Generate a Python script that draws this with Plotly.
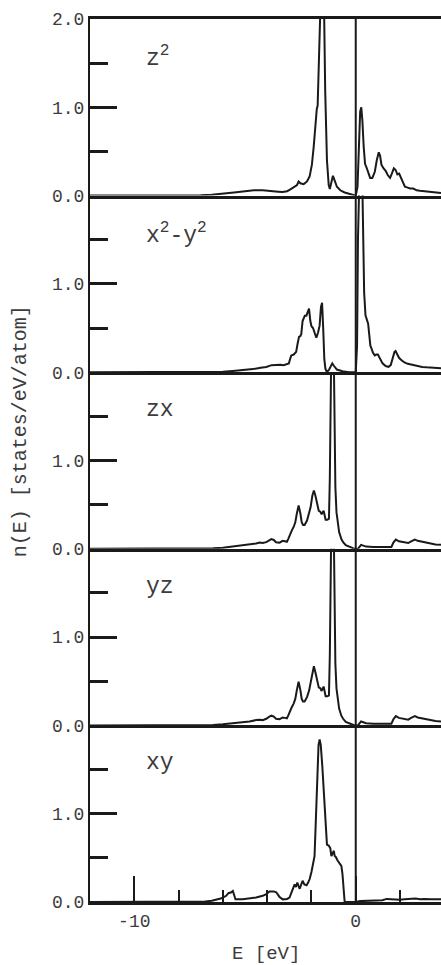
import plotly.graph_objects as go
from plotly.subplots import make_subplots

# ---------------- data ----------------
panel_labels = ["z<sup>2</sup>", "x<sup>2</sup>-y<sup>2</sup>", "zx", "yz", "xy"]

E_z2 = [-12.0, -7.5, -7.0, -6.5, -6.0, -5.5, -5.0, -4.6, -4.2, -3.8, -3.5, -3.3, -3.1, -2.95, -2.8,
        -2.65, -2.58, -2.5, -2.35, -2.2, -2.08, -1.98, -1.9, -1.82, -1.76, -1.72, -1.66, -1.6, -1.52,
        -1.44, -1.38, -1.30, -1.22, -1.17, -1.10, -1.03, -0.95, -0.85, -0.7, -0.5, -0.3, -0.15, 0.0,
        0.08, 0.14, 0.20, 0.25, 0.30, 0.36, 0.42, 0.5, 0.58, 0.65, 0.75, 0.86, 0.95, 1.04, 1.10, 1.16,
        1.25, 1.35, 1.45, 1.55, 1.63, 1.72, 1.80, 1.88, 1.96, 2.04, 2.12, 2.22, 2.35, 2.45, 2.6, 2.75,
        2.9, 3.05, 3.2, 3.4, 3.6, 3.85]
n_z2 = [0.0, 0.0, 0.005, 0.01, 0.02, 0.035, 0.05, 0.06, 0.06, 0.055, 0.045, 0.04, 0.05, 0.07, 0.10,
        0.12, 0.16, 0.14, 0.13, 0.16, 0.22, 0.35, 0.55, 0.85, 0.98, 1.02, 1.6, 2.3, 2.8,
        2.3, 1.2, 0.4, 0.12, 0.075, 0.15, 0.225, 0.17, 0.10, 0.06, 0.035, 0.02, 0.01, 0.0,
        0.1, 0.6, 0.95, 1.0, 0.85, 0.55, 0.36, 0.31, 0.24, 0.2, 0.2, 0.27, 0.4, 0.49, 0.45, 0.35,
        0.31, 0.28, 0.23, 0.2, 0.25, 0.31, 0.29, 0.24, 0.25, 0.2, 0.14, 0.10, 0.09, 0.08, 0.08, 0.06,
        0.055, 0.05, 0.045, 0.04, 0.035, 0.03]

E_x2y2 = [-12.0, -6.5, -6.0, -5.55, -5.0, -4.64, -4.3, -4.04, -3.8, -3.59, -3.4, -3.26, -3.1, -3.02,
          -2.95, -2.91, -2.8, -2.69, -2.62, -2.56, -2.5, -2.46, -2.40, -2.3, -2.23, -2.17, -2.11,
          -2.05, -2.0, -1.93, -1.85, -1.78, -1.70, -1.63, -1.57, -1.52, -1.47, -1.42, -1.37, -1.30,
          -1.2, -1.12, -1.06, -0.98, -0.85, -0.6, -0.3, 0.0, 0.06, 0.1, 0.15, 0.22, 0.28, 0.33, 0.38,
          0.44, 0.5, 0.56, 0.62, 0.66, 0.71, 0.78, 0.86, 0.93, 1.0, 1.08, 1.21, 1.35, 1.48, 1.58,
          1.67, 1.75, 1.8, 1.88, 1.96, 2.07, 2.2, 2.35, 2.5, 2.6, 2.8, 3.0, 3.2, 3.5, 3.85]
n_x2y2 = [0.0, 0.0, 0.005, 0.015, 0.025, 0.035, 0.05, 0.06, 0.08, 0.085, 0.085, 0.08, 0.09, 0.1,
          0.16, 0.19, 0.2, 0.23, 0.33, 0.40, 0.41, 0.43, 0.58, 0.64, 0.64, 0.68, 0.72,
          0.58, 0.52, 0.50, 0.43, 0.39, 0.45, 0.53, 0.74, 0.785, 0.5, 0.15, 0.04, 0.0,
          0.03, 0.08, 0.10, 0.07, 0.03, 0.01, 0.0, 0.0, 0.3, 1.5, 2.4, 2.8, 2.4, 1.6, 0.9,
          0.645, 0.6, 0.55, 0.4, 0.3, 0.27, 0.22, 0.19, 0.2, 0.2, 0.16, 0.1, 0.07, 0.06, 0.08,
          0.17, 0.23, 0.24, 0.2, 0.16, 0.135, 0.11, 0.095, 0.085, 0.08, 0.065, 0.06, 0.055, 0.05, 0.045]

E_zx = [-12.0, -7.0, -6.45, -6.0, -5.55, -5.2, -4.8, -4.5, -4.34, -4.2, -4.04, -3.9, -3.81, -3.7,
        -3.6, -3.44, -3.3, -3.2, -3.11, -3.05, -2.99, -2.9, -2.8, -2.73, -2.66, -2.58, -2.5, -2.44,
        -2.38, -2.31, -2.2, -2.1, -2.04, -1.96, -1.89, -1.82, -1.75, -1.67, -1.6, -1.54, -1.45,
        -1.40, -1.36, -1.28, -1.21, -1.17, -1.13, -1.08, -1.02, -0.97, -0.92, -0.87, -0.8, -0.75,
        -0.65, -0.57, -0.45, -0.27, -0.1, 0.0, 0.1, 0.24, 0.35, 0.47, 0.8, 1.2, 1.61, 1.7, 1.81,
        1.95, 2.07, 2.2, 2.37, 2.5, 2.67, 2.8, 2.97, 3.15, 3.35, 3.6, 3.85]
n_zx = [0.0, 0.0, 0.005, 0.012, 0.025, 0.035, 0.045, 0.06, 0.07, 0.065, 0.075, 0.1, 0.11, 0.1,
        0.075, 0.07, 0.09, 0.085, 0.08, 0.11, 0.15, 0.2, 0.25, 0.30, 0.4, 0.49, 0.4, 0.3,
        0.27, 0.27, 0.32, 0.4, 0.47, 0.6, 0.66, 0.6, 0.5, 0.43, 0.42, 0.39, 0.43,
        0.36, 0.33, 0.33, 0.34, 0.8, 2.0, 2.8, 2.8, 1.6, 0.7, 0.415, 0.26, 0.19,
        0.11, 0.075, 0.04, 0.02, 0.005, 0.0, 0.0, 0.045, 0.035, 0.025, 0.02, 0.02, 0.02, 0.07, 0.105,
        0.085, 0.08, 0.075, 0.065, 0.085, 0.105, 0.09, 0.08, 0.07, 0.06, 0.05, 0.045]

E_yz = [-12.0, -7.0, -6.45, -6.0, -5.55, -5.2, -4.8, -4.5, -4.34, -4.2, -4.04, -3.9, -3.81, -3.7,
        -3.6, -3.44, -3.3, -3.2, -3.11, -3.05, -2.99, -2.9, -2.8, -2.73, -2.66, -2.58, -2.5, -2.44,
        -2.38, -2.31, -2.2, -2.1, -2.04, -1.96, -1.89, -1.82, -1.75, -1.67, -1.6, -1.54, -1.45,
        -1.40, -1.36, -1.28, -1.21, -1.17, -1.13, -1.08, -1.02, -0.97, -0.92, -0.87, -0.8, -0.75,
        -0.65, -0.57, -0.45, -0.27, -0.1, 0.0, 0.1, 0.24, 0.35, 0.47, 0.8, 1.2, 1.61, 1.7, 1.81,
        1.95, 2.07, 2.2, 2.37, 2.5, 2.67, 2.8, 2.97, 3.15, 3.35, 3.6, 3.85]
n_yz = [0.0, 0.0, 0.005, 0.012, 0.022, 0.033, 0.045, 0.06, 0.065, 0.06, 0.075, 0.1, 0.11, 0.1,
        0.075, 0.07, 0.09, 0.085, 0.08, 0.11, 0.15, 0.2, 0.25, 0.30, 0.4, 0.495, 0.4, 0.3,
        0.27, 0.27, 0.32, 0.4, 0.48, 0.6, 0.67, 0.6, 0.5, 0.43, 0.42, 0.39, 0.44,
        0.36, 0.33, 0.33, 0.34, 0.8, 2.0, 2.8, 2.8, 1.6, 0.7, 0.42, 0.26, 0.19,
        0.11, 0.075, 0.04, 0.02, 0.005, 0.0, 0.0, 0.045, 0.035, 0.025, 0.02, 0.02, 0.02, 0.07, 0.105,
        0.085, 0.08, 0.075, 0.065, 0.085, 0.105, 0.09, 0.08, 0.07, 0.06, 0.05, 0.045]

E_xy = [-12.0, -7.2, -6.8, -6.5, -6.3, -6.1, -6.0, -5.85, -5.75, -5.62, -5.55, -5.48, -5.43, -5.1,
        -4.8, -4.5, -4.2, -4.04, -3.9, -3.81, -3.7, -3.59, -3.45, -3.3, -3.1, -2.99, -2.88, -2.8,
        -2.76, -2.70, -2.64, -2.58, -2.53, -2.46, -2.4, -2.32, -2.22, -2.15, -2.08, -2.0, -1.93,
        -1.86, -1.82, -1.78, -1.73, -1.68, -1.63, -1.58, -1.51, -1.45, -1.40, -1.35, -1.30, -1.22,
        -1.15, -1.10, -1.05, -0.99, -0.95, -0.9, -0.82, -0.75, -0.65, -0.6, -0.57, -0.53, -0.5,
        -0.1, 0.0, 0.2, 0.5, 0.8, 1.0, 1.2, 1.4, 1.6, 1.8, 2.0, 2.2, 2.4, 2.6, 2.7, 2.9, 3.1,
        3.4, 3.6, 3.85]
n_xy = [0.0, 0.0, 0.005, 0.015, 0.025, 0.04, 0.05, 0.07, 0.1, 0.11, 0.125, 0.08, 0.03, 0.03,
        0.04, 0.05, 0.07, 0.09, 0.12, 0.12, 0.12, 0.11, 0.06, 0.03, 0.035, 0.05, 0.12, 0.19,
        0.2, 0.17, 0.22, 0.18, 0.15, 0.2, 0.24, 0.2, 0.19, 0.22, 0.26, 0.34, 0.42,
        0.52, 0.8, 1.16, 1.55, 1.78, 1.84, 1.78, 1.54, 1.25, 0.975, 0.8, 0.65, 0.64,
        0.61, 0.52, 0.56, 0.58, 0.52, 0.51, 0.47, 0.445, 0.41, 0.32, 0.22, 0.08, 0.0,
        0.0, 0.0, 0.01, 0.015, 0.02, 0.025, 0.02, 0.035, 0.03, 0.03, 0.025, 0.03, 0.035, 0.04, 0.04, 0.03, 0.035,
        0.03, 0.03, 0.03]

energies = [E_z2, E_x2y2, E_zx, E_yz, E_xy]
dos = [n_z2, n_x2y2, n_zx, n_yz, n_xy]

x_range = [-12.0, 3.85]
y_range = [0.0, 2.0]
x_major_ticks = [-10, 0]
x_major_text = ["-10", "0"]
x_minor_ticks = [-8, -6, -4, -2, 2]
y_major_ticks = [0, 1, 2]
y_major_text = ["0.0", "1.0", "2.0"]
y_minor_ticks = [0.5, 1.5]

# ---------------- figure ----------------
INK = "#1a1a1a"
TXT = "#3c3c3c"
FONT = "Liberation Mono, Courier New, monospace"

fig = make_subplots(rows=5, cols=1, shared_xaxes=True, vertical_spacing=0)

for i in range(5):
    fig.add_trace(go.Scatter(x=energies[i], y=dos[i], mode="lines",
                             line=dict(color=INK, width=2), showlegend=False,
                             hoverinfo="skip"), row=i + 1, col=1)
    nt = 3 if i == 0 else 2
    fig.update_yaxes(range=y_range, tickmode="array",
                     tickvals=y_major_ticks[:nt], ticktext=y_major_text[:nt],
                     ticks="inside", ticklen=27, tickwidth=2.5, tickcolor=INK,
                     minor=dict(tickmode="array", tickvals=y_minor_ticks, ticks="inside",
                                ticklen=18, tickwidth=2.5, tickcolor=INK),
                     showline=True, linewidth=2, linecolor=INK,
                     showgrid=False, zeroline=False,
                     tickfont=dict(family=FONT, size=18, color=TXT),
                     row=i + 1, col=1)
    last = (i == 4)
    fig.update_xaxes(range=x_range, showline=True, mirror=(i == 0), linewidth=3, linecolor=INK,
                     showgrid=False, zeroline=False,
                     showticklabels=last,
                     tickmode="array", tickvals=x_major_ticks if last else [],
                     ticktext=x_major_text if last else [],
                     ticks="inside" if last else "", ticklen=26, tickwidth=2, tickcolor=INK,
                     minor=dict(tickmode="array", tickvals=x_minor_ticks if last else [],
                                ticks="inside" if last else "", ticklen=12, tickwidth=2,
                                tickcolor=INK),
                     tickfont=dict(family=FONT, size=18, color=TXT),
                     row=i + 1, col=1)
    fig.add_annotation(x=-9.55, y=1.57, xref=f"x{i + 1}", yref=f"y{i + 1}",
                       text=panel_labels[i], showarrow=False, xanchor="left", yanchor="middle",
                       font=dict(family=FONT, size=23, color=TXT))

# Fermi level line across all panels
fig.add_shape(type="line", xref="x5", yref="paper", x0=0, x1=0, y0=0, y1=1,
              line=dict(color=INK, width=2))

# axis titles
fig.add_annotation(x=0.5, y=0, xref="paper", yref="paper", yshift=-52,
                   text="E [eV]", showarrow=False, xanchor="center", yanchor="middle",
                   font=dict(family=FONT, size=19, color=TXT))
fig.add_annotation(x=0, y=0.533, xref="paper", yref="paper", xshift=-70,
                   text="n(E) [states/eV/atom]", showarrow=False, textangle=-90,
                   xanchor="center", yanchor="middle",
                   font=dict(family=FONT, size=20, color=TXT))

fig.update_layout(width=441, height=965, margin=dict(l=90, r=0, t=19, b=63),
                  paper_bgcolor="white", plot_bgcolor="white")

fig.write_html("out.html")
